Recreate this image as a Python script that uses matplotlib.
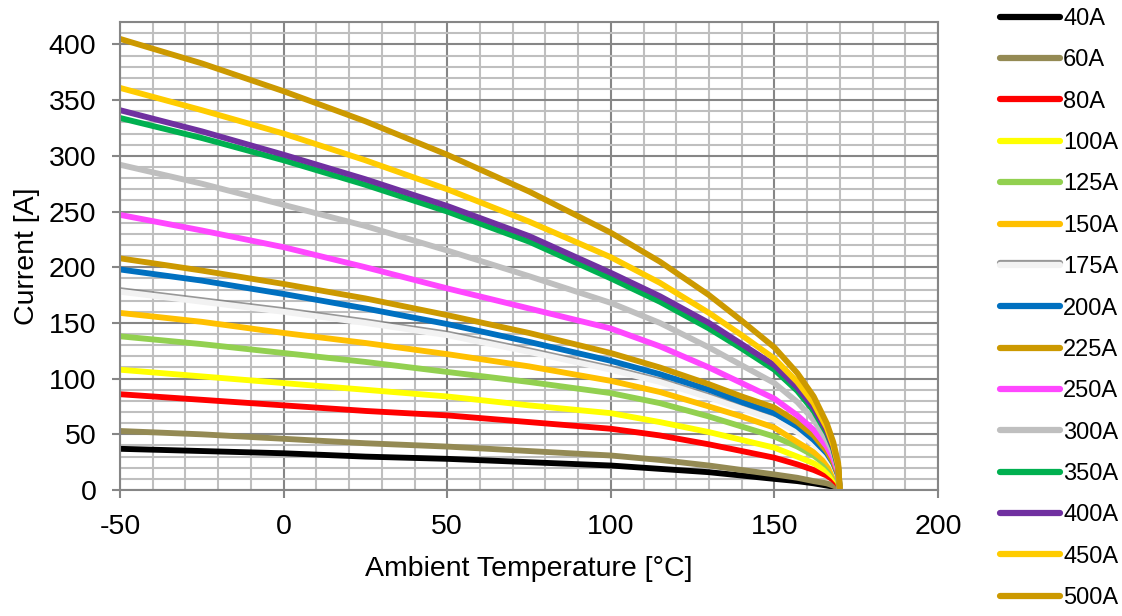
import matplotlib
matplotlib.use("Agg")
import matplotlib.pyplot as plt
import matplotlib.patheffects as pe
from matplotlib.ticker import MultipleLocator

plt.rcParams["font.family"] = ["Liberation Sans", "DejaVu Sans"]
plt.rcParams["axes.unicode_minus"] = False

# ambient temperature sample points [°C]
temps = [-50, -25, 0, 25, 50, 75, 100, 115, 130, 140, 150, 157, 162, 166, 168, 169.5, 170]

# derated current per rating [A]
i_40 = [37, 35, 33, 30, 28, 25, 22, 19, 16, 13, 10, 8, 6, 4, 3, 2, 0]
i_60 = [53, 50, 46, 42, 39, 35, 31, 27, 22, 18, 14, 11, 8, 6, 4, 2, 0]
i_80 = [86, 81, 76, 71, 67, 61, 55, 49, 41, 35, 29, 23, 18, 13, 9, 5, 0]
i_100 = [108, 102, 96, 90, 84, 76, 69, 61, 52, 45, 38, 30, 24, 17, 12, 7, 0]
i_125 = [138, 131, 123, 115, 106, 97, 87, 78, 66, 57, 48, 39, 31, 22, 16, 9, 0]
i_150 = [159, 151, 141, 132, 122, 111, 98, 88, 75, 66, 56, 43, 34, 25, 18, 10, 0]
i_175 = [178, 169, 160, 150, 139, 124, 108, 97, 83, 73, 63, 52, 41, 30, 22, 12, 0]
i_200 = [198, 188, 176, 163, 149, 133, 116, 104, 90, 79, 69, 57, 45, 33, 24, 13, 0]
i_225 = [208, 197, 185, 172, 157, 141, 123, 110, 95, 84, 74, 61, 49, 35, 25, 14, 0]
i_250 = [247, 233, 218, 200, 181, 163, 145, 129, 110, 96, 82, 67, 54, 39, 28, 16, 0]
i_300 = [292, 275, 256, 237, 215, 192, 168, 150, 128, 112, 96, 79, 63, 45, 33, 18, 0]
i_350 = [334, 316, 296, 274, 250, 223, 190, 169, 145, 127, 108, 89, 71, 51, 37, 20, 0]
i_400 = [341, 322, 301, 279, 255, 228, 195, 174, 150, 131, 112, 92, 74, 53, 38, 21, 0]
i_450 = [361, 341, 320, 296, 270, 241, 209, 186, 159, 139, 118, 97, 78, 56, 40, 22, 0]
i_500 = [405, 383, 358, 331, 301, 268, 231, 205, 175, 152, 128, 105, 84, 60, 43, 24, 0]

labels = ["40A", "60A", "80A", "100A", "125A", "150A", "175A", "200A",
          "225A", "250A", "300A", "350A", "400A", "450A", "500A"]
series = [i_40, i_60, i_80, i_100, i_125, i_150, i_175, i_200,
          i_225, i_250, i_300, i_350, i_400, i_450, i_500]
colors = ["#000000", "#948A54", "#FF0000", "#FFFF00", "#92D050", "#FFC000",
          "#F2F2F2", "#0070C0", "#CC9900", "#FF47FF", "#BFBFBF", "#00B050",
          "#7030A0", "#FFCC00", "#CC9900"]

fig = plt.figure(figsize=(11.22, 6.16), dpi=100)
ax = fig.add_axes([0.107, 0.2045, 0.729, 0.7595])

for lab, vals, col in zip(labels, series, colors):
    line, = ax.plot(temps, vals, color=col, lw=4.2, label=lab,
                    solid_capstyle="butt", solid_joinstyle="round")
    if lab == "175A":
        line.set_path_effects([
            pe.SimpleLineShadow(offset=(0, 1.2), shadow_color="#7F7F7F",
                                alpha=0.8, rho=1),
            pe.Normal(),
        ])

ax.set_xlim(-50, 200)
ax.set_ylim(0, 420)
ax.xaxis.set_major_locator(MultipleLocator(50))
ax.xaxis.set_minor_locator(MultipleLocator(10))
ax.yaxis.set_major_locator(MultipleLocator(50))
ax.yaxis.set_minor_locator(MultipleLocator(10))

ax.grid(which="minor", color="#BFBFBF", lw=1.5, zorder=0)
ax.grid(which="major", color="#868686", lw=1.5, zorder=0)
ax.set_axisbelow(True)
for sp in ax.spines.values():
    sp.set_color("#868686")
    sp.set_linewidth(1.5)

ax.tick_params(which="major", direction="out", length=6, width=1.5,
               color="#868686", labelsize=20.5)
ax.tick_params(axis="y", which="major", pad=11)
ax.tick_params(axis="x", which="major", pad=11)
ax.tick_params(which="minor", length=0)

ax.set_xlabel("Ambient Temperature [°C]", fontsize=20.5, labelpad=12)
ax.set_ylabel("Current [A]", fontsize=20.5, labelpad=6)

leg = fig.legend(loc="upper left", bbox_to_anchor=(1000 / 1122, 1 - 8 / 616),
                 bbox_transform=fig.transFigure, frameon=False,
                 fontsize=17, handlelength=2.55, handletextpad=0.12,
                 labelspacing=0.82, borderpad=0, borderaxespad=0)
for h in leg.get_lines():
    h.set_linewidth(4.5)
    h.set_solid_capstyle("round")

fig.savefig("out.png", dpi=100)
